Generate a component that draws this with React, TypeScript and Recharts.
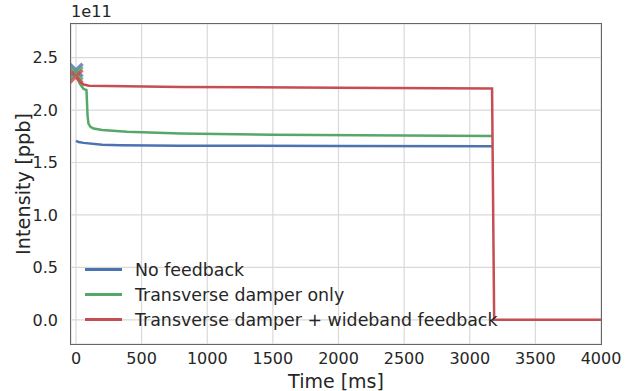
import { ComposedChart, Line, Scatter, XAxis, YAxis, CartesianGrid } from "recharts"

// intensidades en unidades de 1e11 ppb
const T_SIN = [0, 20, 58, 200, 340, 794, 2000, 3170]
const V_SIN = [1.706, 1.695, 1.687, 1.67, 1.665, 1.66, 1.657, 1.655]

const T_DAMPER = [5, 10, 30, 58, 80, 88, 95, 110, 134, 200, 388, 794, 1500, 2500, 3170]
const V_DAMPER = [2.32, 2.3, 2.25, 2.2, 2.19, 1.95, 1.87, 1.84, 1.824, 1.81, 1.792, 1.776, 1.765, 1.758, 1.752]

const T_WIDEBAND = [5, 10, 30, 58, 100, 794, 2000, 3170, 3186, 4000]
const V_WIDEBAND = [2.31, 2.3, 2.27, 2.243, 2.232, 2.22, 2.212, 2.205, 0, 0]

// marcadores "x" al inicio
const MARCA_T = [0, 0, 0]
const MARCA_V = [2.38, 2.35, 2.32]

const X_TICKS = [0, 500, 1000, 1500, 2000, 2500, 3000, 3500, 4000]
const Y_TICKS = [0, 0.5, 1, 1.5, 2, 2.5]

const SERIES = ["No feedback", "Transverse damper only", "Transverse damper + wideband feedback"]
const COLORES = ["#4C72B0", "#55A868", "#C44E52"]

const zip = (t: number[], v: number[]) => t.map((x, i) => ({ t: x, v: v[i] }))

const datos = [zip(T_SIN, V_SIN), zip(T_DAMPER, V_DAMPER), zip(T_WIDEBAND, V_WIDEBAND)]

const FUENTE = "'DejaVu Sans', sans-serif"

const Cruz = (color: string) => (props: any) => {
  const { cx, cy } = props
  const r = 6.5
  return (
    <path
      d={`M${cx - r},${cy - r}L${cx + r},${cy + r}M${cx - r},${cy + r}L${cx + r},${cy - r}`}
      stroke={color}
      strokeWidth={3.5}
      strokeOpacity={0.8}
      fill="none"
    />
  )
}

export default function App() {
  return (
    <div style={{ position: "absolute", left: 0, top: 0, width: 633, height: 391, background: "#fff", fontFamily: FUENTE }}>
      <ComposedChart width={633} height={391} margin={{ top: 24, right: 32, bottom: 0, left: 0 }}>
        <CartesianGrid stroke="#d9d9d9" strokeWidth={1.2} />
        <XAxis
          dataKey="t"
          type="number"
          domain={[-38, 4000]}
          ticks={X_TICKS}
          allowDataOverflow
          height={47}
          tickLine={false}
          axisLine={false}
          tickMargin={3}
          tick={{ fontSize: 16, fill: "#262626", fontFamily: FUENTE }}
          label={{ value: "Time [ms]", position: "insideBottom", offset: 3, fontSize: 19, fill: "#262626", fontFamily: FUENTE }}
        />
        <YAxis
          type="number"
          domain={[-0.23, 2.82]}
          ticks={Y_TICKS}
          allowDataOverflow
          width={71}
          tickLine={false}
          axisLine={false}
          tickMargin={7}
          tickFormatter={(v: number) => v.toFixed(1)}
          tick={{ fontSize: 16, fill: "#262626", fontFamily: FUENTE }}
          label={{ value: "Intensity [ppb]", angle: -90, position: "center", dx: -12, fontSize: 19.3, fill: "#262626", fontFamily: FUENTE }}
        />
        {datos.map((d, i) => (
          <Line
            key={SERIES[i]}
            data={d}
            dataKey="v"
            stroke={COLORES[i]}
            strokeWidth={2.5}
            dot={false}
            isAnimationActive={false}
          />
        ))}
        {COLORES.map((c, i) => (
          <Scatter
            key={"m" + i}
            data={[{ t: MARCA_T[i], v: MARCA_V[i] }]}
            dataKey="v"
            shape={Cruz(c)}
            isAnimationActive={false}
          />
        ))}
      </ComposedChart>
      {/* marco del area de trazado */}
      <div style={{ position: "absolute", left: 70, top: 23, width: 530, height: 320, border: "1.5px solid #666", pointerEvents: "none" }} />
      <div style={{ position: "absolute", left: 71, top: 2, fontSize: 16.2, color: "#262626" }}>1e11</div>
      <div style={{ position: "absolute", left: 85, top: 257 }}>
        {SERIES.map((s, i) => (
          <div key={s} style={{ display: "flex", alignItems: "center", height: 25, whiteSpace: "nowrap" }}>
            <span style={{ width: 37, height: 2.5, background: COLORES[i], display: "inline-block", marginRight: 13 }} />
            <span style={{ fontSize: 17.4, color: "#262626" }}>{s}</span>
          </div>
        ))}
      </div>
    </div>
  )
}
